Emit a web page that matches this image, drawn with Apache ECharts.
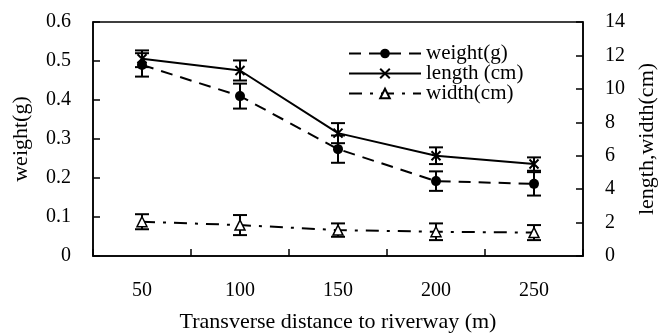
<!DOCTYPE html>
<html>
<head>
<meta charset="utf-8">
<script src="https://cdn.jsdelivr.net/npm/echarts@6/dist/echarts.min.js"></script>
<style>
  html, body { margin: 0; padding: 0; background: #fff; }
  #chart { width: 662px; height: 333px; }
</style>
</head>
<body>
<div id="chart"></div>
<script>
  // 横向距离（m）
  var distances = ['50', '100', '150', '200', '250'];

  // 各指标均值与误差
  var weightMean = [0.49, 0.41, 0.274, 0.192, 0.185];
  var weightErr = [0.03, 0.032, 0.035, 0.025, 0.03];
  var lengthMean = [11.8, 11.1, 7.35, 6.0, 5.5];
  var lengthErr = [0.5, 0.6, 0.6, 0.5, 0.4];
  var widthMean = [2.05, 1.85, 1.55, 1.45, 1.4];
  var widthErr = [0.45, 0.6, 0.4, 0.5, 0.45];

  var leftTicks = [0, 0.1, 0.2, 0.3, 0.4, 0.5, 0.6];
  var rightTicks = [0, 2, 4, 6, 8, 10, 12, 14];

  var font = 'Liberation Serif';

  function errData(mean, err){
    return mean.map(function (v, i){
      return [i, v - err[i], v + err[i]];
    });
  }

  /*误差线*/
  function errSeries(mean, err, yIdx){
    return {
      type: 'custom',
      yAxisIndex: yIdx,
      silent: true,
      z: 3,
      data: errData(mean, err),
      encode: {x: 0, y: [1, 2]},
      renderItem: function (params, api){
        var lo = api.coord([api.value(0), api.value(1)]);
        var hi = api.coord([api.value(0), api.value(2)]);
        var w = 7;
        var st = {stroke: '#000', lineWidth: 2};
        return {
          type: 'group',
          children: [
            {type: 'line', shape: {x1: lo[0], y1: lo[1], x2: hi[0], y2: hi[1]}, style: st},
            {type: 'line', shape: {x1: lo[0] - w, y1: lo[1], x2: lo[0] + w, y2: lo[1]}, style: st},
            {type: 'line', shape: {x1: hi[0] - w, y1: hi[1], x2: hi[0] + w, y2: hi[1]}, style: st}
          ]
        };
      }
    };
  }

  var myChart = echarts.init(document.getElementById('chart'));
  var axisLine = {show: true, lineStyle: {color: '#000', width: 1.5}};
  var axisTick = {show: true, inside: true, length: 7, lineStyle: {color: '#000', width: 1.5}};

  var option = {
    animation: false,
    backgroundColor: '#fff',
    grid: {
      left: 93, right: 79, top: 22, bottom: 77,
      outerBoundsMode: 'none',
      containLabel: false,
      show: true, borderColor: '#000', borderWidth: 1.5
    },
    legend: {
      orient: 'vertical',
      left: 343,
      top: 38,
      itemWidth: 72,
      itemHeight: 12,
      itemGap: -1,
      textStyle: {color: '#000', fontFamily: font, fontSize: 21},
      data: ['weight(g)', 'length (cm)', 'width(cm)']
    },
    xAxis: {
      type: 'category',
      data: distances,
      boundaryGap: true,
      name: 'Transverse distance to riverway (m)',
      nameLocation: 'middle',
      nameGap: 55,
      nameTextStyle: {color: '#000', fontFamily: font, fontSize: 22},
      axisLine: axisLine,
      axisTick: {show: true, inside: true, length: 7, interval: 0, lineStyle: {color: '#000', width: 1.5}},
      axisLabel: {color: '#000', fontFamily: font, fontSize: 20, margin: 25}
    },
    yAxis: [
      {
        type: 'value',
        min: leftTicks[0],
        max: leftTicks[leftTicks.length - 1],
        interval: 0.1,
        name: 'weight(g)',
        nameLocation: 'middle',
        nameGap: 61,
        nameTextStyle: {color: '#000', fontFamily: font, fontSize: 22},
        axisLine: axisLine,
        axisTick: axisTick,
        splitLine: {show: false},
        axisLabel: {
          color: '#000', fontFamily: font, fontSize: 20, margin: 22,
          formatter: function (v){ return v === 0 ? '0' : v.toFixed(1); }
        }
      },
      {
        type: 'value',
        position: 'right',
        min: rightTicks[0],
        max: rightTicks[rightTicks.length - 1],
        interval: 2,
        name: 'length,width(cm)',
        nameLocation: 'middle',
        nameGap: 50,
        nameTextStyle: {color: '#000', fontFamily: font, fontSize: 22},
        axisLine: axisLine,
        axisTick: axisTick,
        splitLine: {show: false},
        axisLabel: {color: '#000', fontFamily: font, fontSize: 20, margin: 22}
      }
    ],
    series: [
      {
        name: 'weight(g)',
        type: 'line',
        yAxisIndex: 0,
        data: weightMean,
        symbol: 'circle',
        symbolSize: 10,
        z: 4,
        itemStyle: {color: '#000'},
        lineStyle: {color: '#000', width: 2, type: [12, 8]}
      },
      {
        name: 'length (cm)',
        type: 'line',
        yAxisIndex: 1,
        data: lengthMean,
        symbol: 'path://M0,0L10,10M0,10L10,0',
        symbolSize: 9,
        z: 4,
        itemStyle: {color: '#000', borderColor: '#000', borderWidth: 2},
        lineStyle: {color: '#000', width: 2, type: 'solid'}
      },
      {
        name: 'width(cm)',
        type: 'line',
        yAxisIndex: 1,
        data: widthMean,
        symbol: 'triangle',
        symbolSize: 10,
        z: 4,
        itemStyle: {color: '#fff', borderColor: '#000', borderWidth: 1.5},
        lineStyle: {color: '#000', width: 2, type: [13, 8, 3, 8]}
      },
      errSeries(weightMean, weightErr, 0),
      errSeries(lengthMean, lengthErr, 1),
      errSeries(widthMean, widthErr, 1)
    ]
  };

  myChart.setOption(option);
</script>
</body>
</html>
